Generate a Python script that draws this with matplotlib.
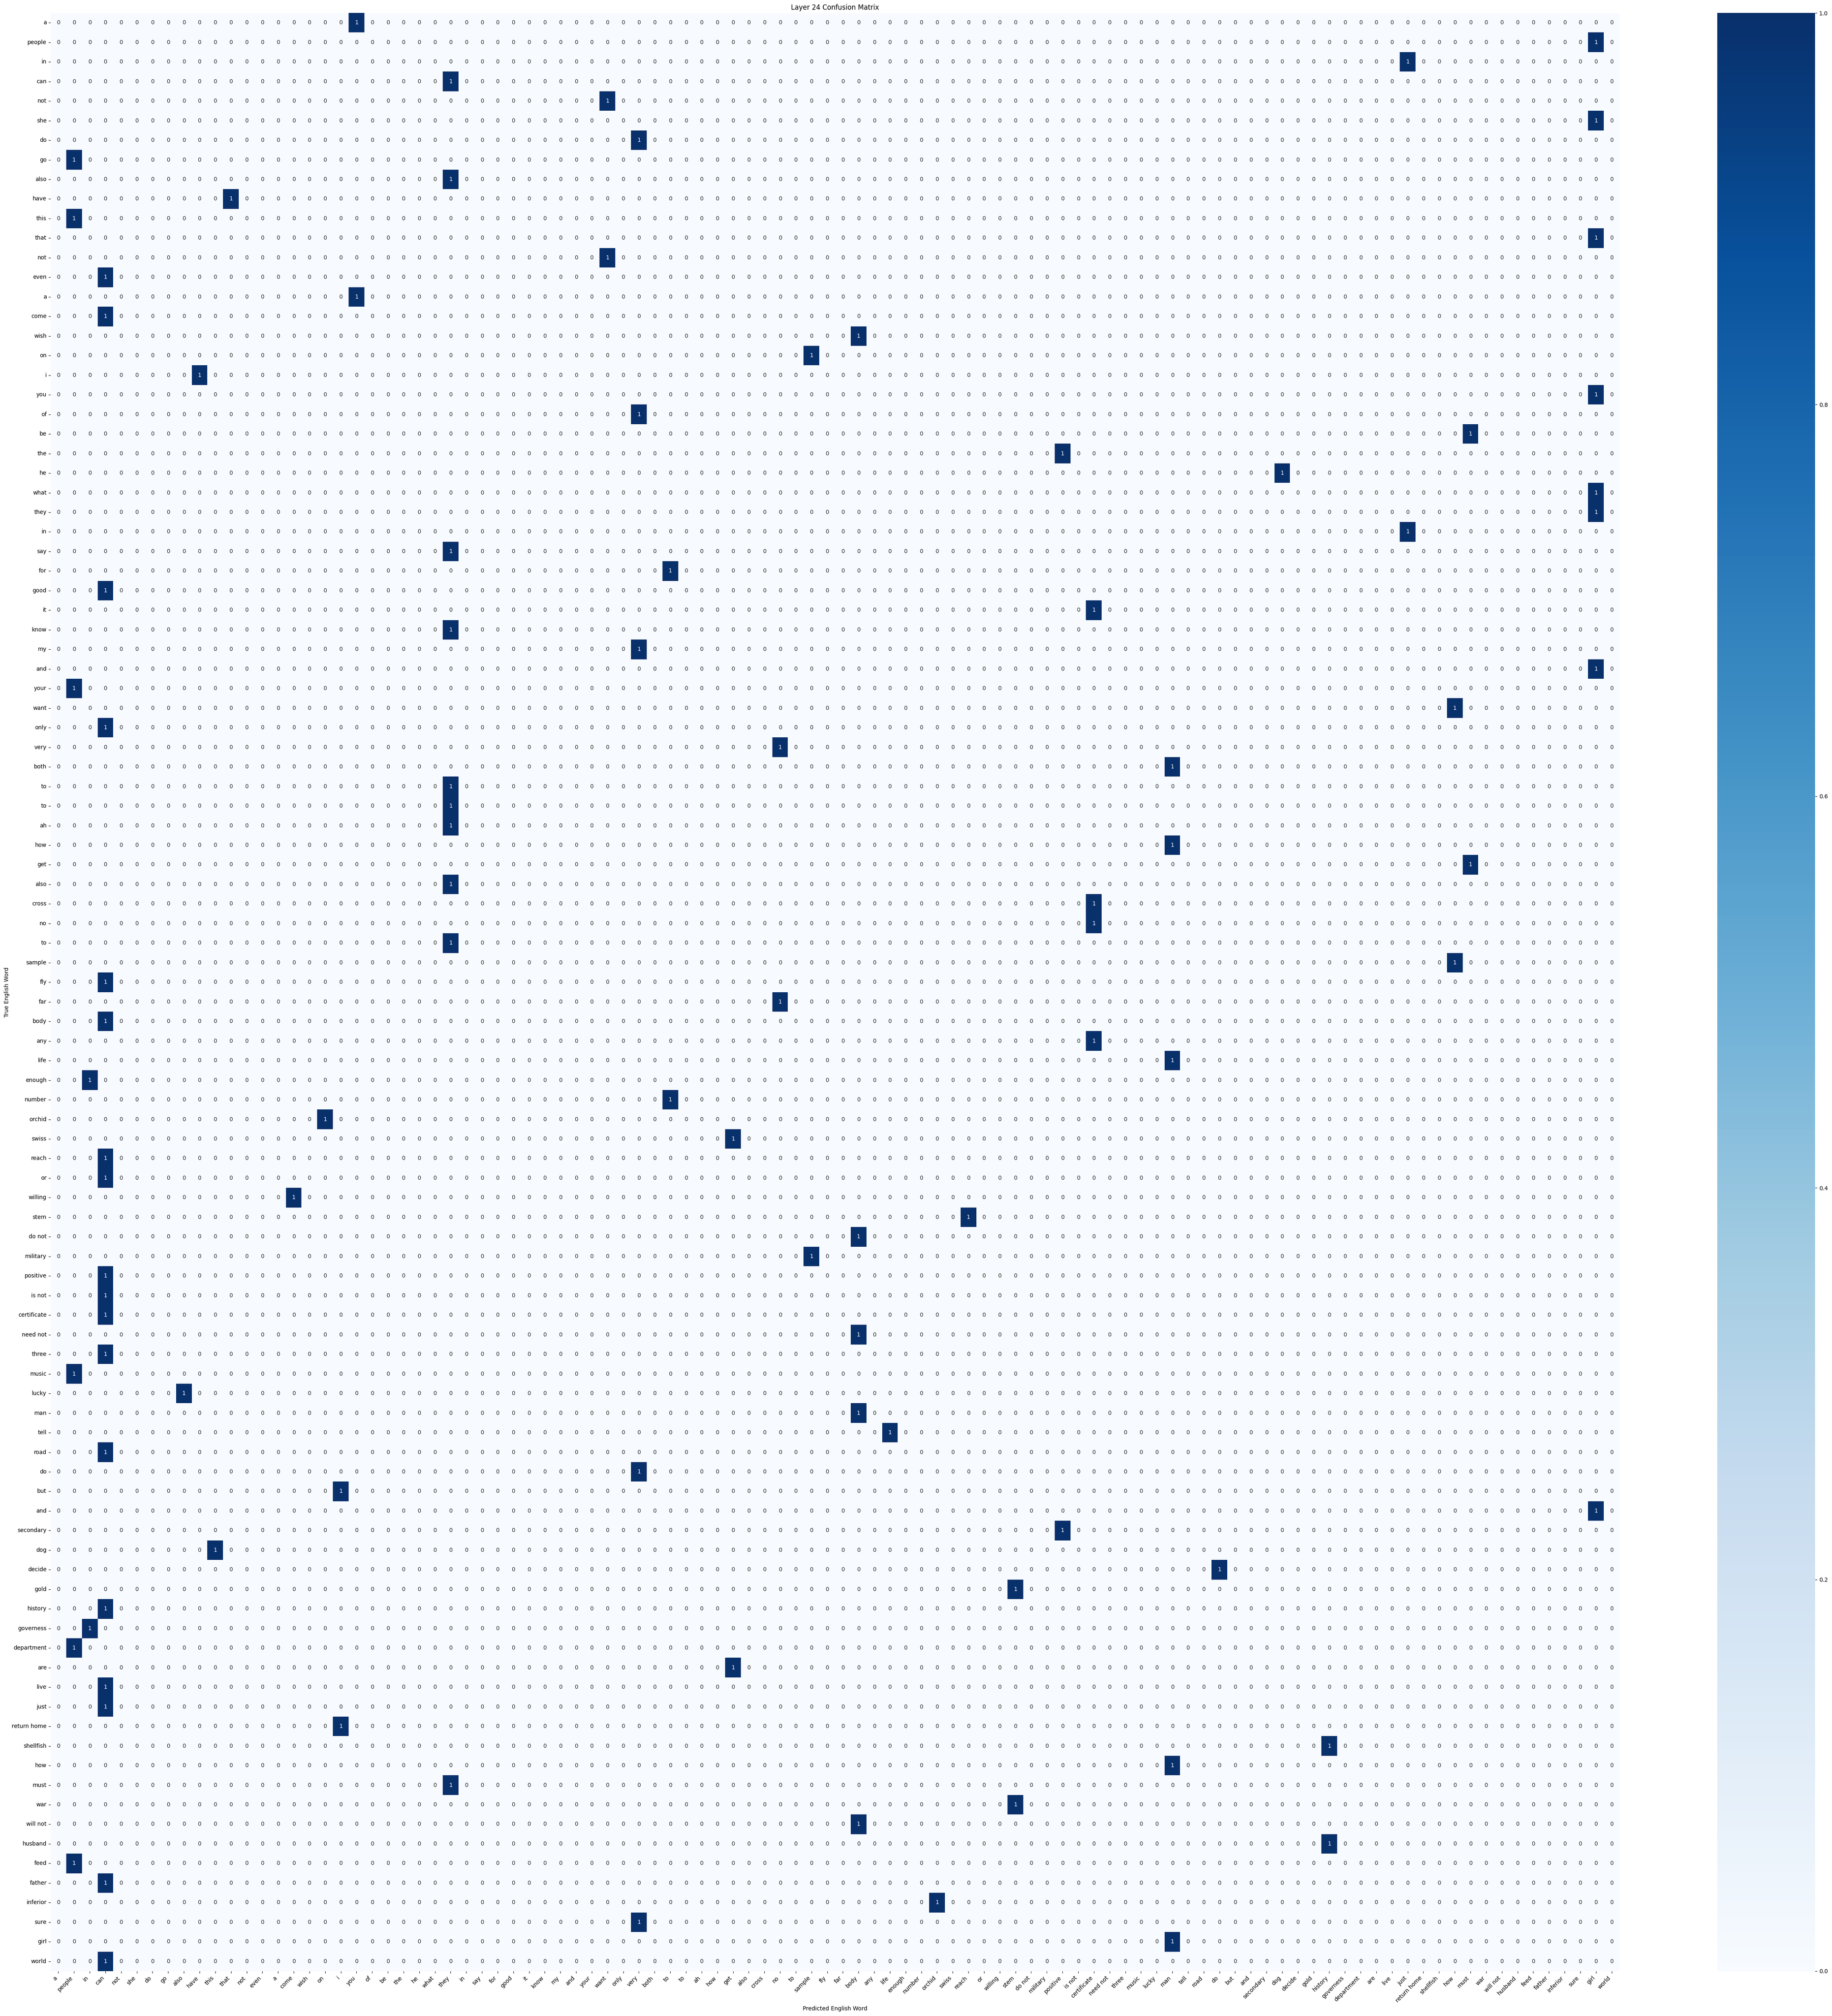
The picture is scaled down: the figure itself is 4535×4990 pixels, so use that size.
import numpy as np
import matplotlib
matplotlib.use("Agg")
import matplotlib.pyplot as plt
import seaborn as sns

# word labels (same list is used for rows and columns)
words = [
    "a", "people", "in", "can", "not", "she", "do", "go", "also", "have",
    "this", "that", "not", "even", "a", "come", "wish", "on", "i", "you",
    "of", "be", "the", "he", "what", "they", "in", "say", "for", "good",
    "it", "know", "my", "and", "your", "want", "only", "very", "both", "to",
    "to", "ah", "how", "get", "also", "cross", "no", "to", "sample", "fly",
    "far", "body", "any", "life", "enough", "number", "orchid", "swiss", "reach", "or",
    "willing", "stem", "do not", "military", "positive", "is not", "certificate", "need not", "three", "music",
    "lucky", "man", "tell", "road", "do", "but", "and", "secondary", "dog", "decide",
    "gold", "history", "governess", "department", "are", "live", "just", "return home", "shellfish", "how",
    "must", "war", "will not", "husband", "feed", "father", "inferior", "sure", "girl", "world",
]

# column index of the single count in every row
pred_col = [
    19, 98, 86, 25, 35, 98, 37, 1, 25, 11,
    1, 98, 35, 3, 19, 3, 51, 48, 9, 98,
    37, 90, 64, 78, 98, 98, 86, 25, 39, 3,
    66, 25, 37, 98, 1, 89, 3, 46, 71, 25,
    25, 25, 71, 90, 25, 66, 66, 25, 89, 3,
    46, 3, 66, 71, 2, 39, 17, 43, 3, 3,
    15, 58, 51, 48, 3, 3, 3, 51, 3, 1,
    8, 51, 53, 3, 37, 18, 98, 64, 10, 74,
    61, 3, 2, 1, 43, 3, 3, 18, 81, 71,
    25, 61, 51, 81, 1, 3, 56, 37, 71, 3,
]

cm = np.zeros((len(words), len(words)), dtype=int)
for r, c in enumerate(pred_col):
    cm[r, c] += 1

W, H = 4535, 4990
fig = plt.figure(figsize=(W / 100, H / 100), dpi=100)
ax = fig.add_axes([125 / W, 111 / H, 3884 / W, 4847 / H])
cax = fig.add_axes([4251 / W, 111 / H, 242 / W, 4847 / H])

sns.heatmap(cm, annot=True, fmt="d", cmap="Blues",
            xticklabels=words, yticklabels=words,
            ax=ax, cbar_ax=cax)

ax.set_title("Layer 24 Confusion Matrix")
ax.set_xlabel("Predicted English Word")
ax.set_ylabel("True English Word")
plt.setp(ax.get_xticklabels(), rotation=45, ha="right")
plt.setp(ax.get_yticklabels(), rotation=0)

fig.savefig("out.png", dpi=100)
